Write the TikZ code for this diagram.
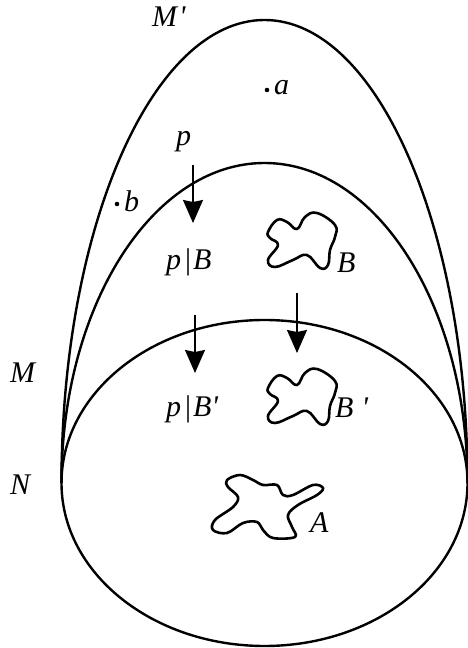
\documentclass[tikz,border=0pt]{standalone}
\usepackage{fontspec}
\setmainfont{Liberation Serif}
\usetikzlibrary{arrows.meta}
\newcommand{\prm}{{\itshape\textquotesingle}}
\tikzset{
  curve/.style={line width=2.4pt},
  blobline/.style={line width=2.6pt, line join=round},
  arr/.style={line width=1.6pt, -{Stealth[width=20pt,length=23pt,inset=2pt]}},
  lbl/.style={anchor=base west, inner sep=0pt, font=\fontsize{30}{32}\selectfont\itshape},
  dotmark/.style={fill=black},
  blobB/.pic={
    \draw[blobline] plot[smooth cycle, tension=0.7] coordinates {
      (-32,8) (-23,20) (-13,18) (-3,11) (5,23) (17,27) (35,15) (35,3) (30,-10)
      (28,-25) (20,-28) (7,-15) (-7,-20) (-25,-27) (-32,-20) (-22,-5) (-30,2)};
  }
}
\begin{document}
\begin{tikzpicture}[x=1pt,y=1pt]
\useasboundingbox (0,0) rectangle (468,648);
\coordinate (c) at (264.5,165);
\coordinate (left) at (61.5,165);
% N ellipse
\draw[curve] (c) ellipse [x radius=203, y radius=163];
% M half-ellipse
\draw[curve] (left) arc[start angle=180, end angle=0, x radius=203, y radius=320];
% M' half-ellipse
\draw[curve] (left) arc[start angle=180, end angle=0, x radius=203, y radius=463];
% blobs
\pic at (300,408) {blobB};
\pic at (300,252) {blobB};
\draw[blobline] plot[smooth cycle, tension=0.6] coordinates {
  (227,168) (240,173) (253,168) (263,163) (277,163) (283,153) (293,153) (313,163)
  (323,160) (317,153) (298,143) (288,133) (292,121) (295,111) (273,110) (263,118)
  (257,126) (243,125) (227,115) (213,118) (215,128) (233,141) (238,151) (228,161)};
% dots
\fill[dotmark] (267,558) circle (2.3);
\fill[dotmark] (117,444) circle (2.3);
% labels
\node[lbl] (Mp) at (152,621) {M\kern2pt\prm};
\node[lbl] (a) at (274,553) {a};
\node[lbl] (p) at (176,502) {p};
\node[lbl] (b) at (124,436) {b};
\node[lbl] (pB) at (166,378) {p\kern4pt\textup{|}\kern2pt B};
\node[lbl] (Bl) at (337,375) {B};
\node[lbl] (pBp) at (166,231) {p\kern4pt\textup{|}\kern2pt B\prm};
\node[lbl] (Bpl) at (335,230) {B\kern8pt\prm};
\node[lbl] (M) at (10,265) {M};
\node[lbl] (N) at (10,153) {N};
\node[lbl] (A) at (310,115) {A};
% arrows
\coordinate (a1s) at (193,483);
\coordinate (a1e) at (193,425);
\coordinate (a2s) at (195,333);
\coordinate (a2e) at (195,275);
\coordinate (a3s) at (297,355);
\coordinate (a3e) at (297,295);
\draw[arr] (a1s) -- (a1e);
\draw[arr] (a2s) -- (a2e);
\draw[arr] (a3s) -- (a3e);
\end{tikzpicture}
\end{document}
